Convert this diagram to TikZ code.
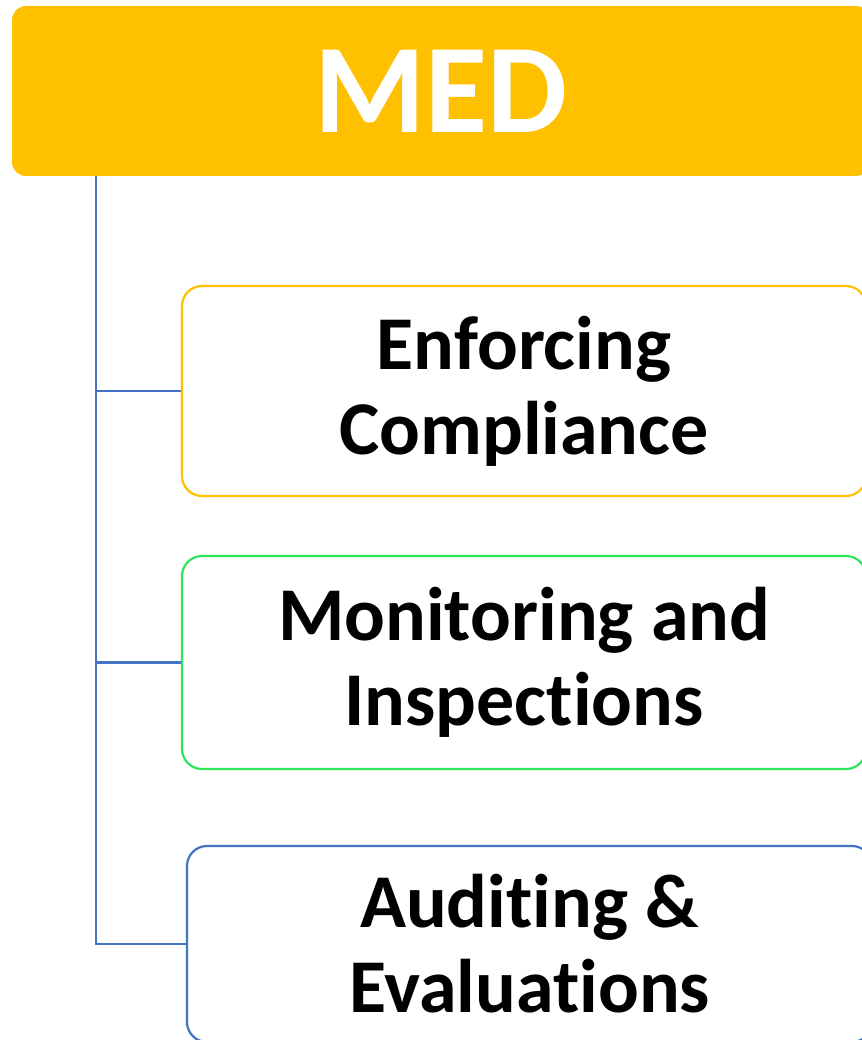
\documentclass[tikz,border=0pt]{standalone}
\usepackage{fontspec}
\setmainfont{Carlito}[RawFeature=-liga]
\definecolor{medgold}{RGB}{255,192,0}
\definecolor{medgreen}{RGB}{46,229,90}
\definecolor{medblue}{RGB}{68,114,196}
\begin{document}
\begin{tikzpicture}[x=1pt,y=-1pt,
	head/.style={rectangle,rounded corners=14pt,fill=medgold,draw=none,minimum width=858pt,minimum height=170pt,inner sep=0,text=white,font=\fontsize{127}{140}\selectfont\bfseries},
	item/.style={rectangle,rounded corners=20pt,line width=2.2pt,fill=white,minimum width=684pt,inner sep=0,align=center,font=\fontsize{76}{85}\selectfont\bfseries},
	link/.style={draw=medblue,line width=2.2pt}]
	\useasboundingbox (0,0) rectangle (861,1040);
	\node[head] (med) at (441,91) {MED};
	\node[item,draw=medgold,minimum height=210pt] (enf) at (524,391) {Enforcing\\Compliance};
	\node[item,draw=medgreen,minimum height=213pt] (mon) at (524,662.5) {Monitoring and\\Inspections};
	\node[item,draw=medblue,minimum height=196pt,minimum width=685pt] (aud) at (529.5,944) {Auditing \&\\Evaluations};
	\coordinate (trunk) at (96,176);
	\draw[link] (trunk) |- (enf.west);
	\draw[link] (trunk) |- (mon.west);
	\draw[link] (trunk) |- (aud.west);
\end{tikzpicture}
\end{document}
